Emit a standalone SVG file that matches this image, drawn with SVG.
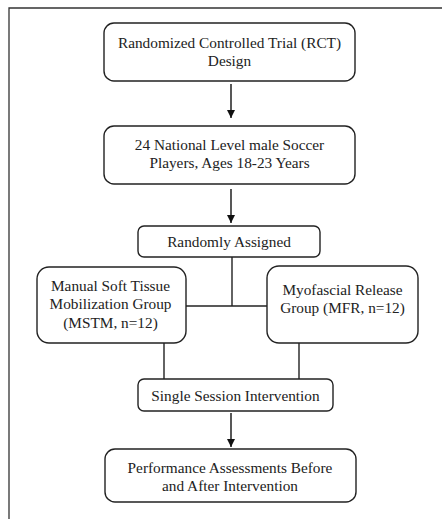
<svg xmlns="http://www.w3.org/2000/svg" width="442" height="519" viewBox="0 0 442 519">
<defs>
<marker id="ah" viewBox="0 0 8 8" refX="8" refY="4" markerWidth="8" markerHeight="8" markerUnits="userSpaceOnUse" orient="auto">
<path d="M0,0 L8,4 L0,8 Z" fill="#111"/>
</marker>
<style>
.box{fill:#fff;stroke:#222;stroke-width:1.4}
.t{font-family:'Liberation Serif','DejaVu Serif',serif;font-size:15.3px;fill:#222;text-anchor:middle}
.ln{stroke:#222;stroke-width:1.4;fill:none}
.ar{stroke:#111;stroke-width:1.4;fill:none;marker-end:url(#ah)}
.fr{stroke:#333;stroke-width:1.3;fill:none}
</style>
</defs>
<rect width="442" height="519" fill="#fff"/>
<path class="fr" d="M9,519 L9,8 L442,8"/>
<g id="connectors">
<line class="ar" x1="231" y1="84" x2="231" y2="118"/>
<line class="ar" x1="231" y1="189" x2="231" y2="223"/>
<line class="ln" x1="232" y1="257" x2="232" y2="306"/>
<line class="ln" x1="186" y1="306" x2="267" y2="306"/>
<line class="ln" x1="164" y1="343" x2="164" y2="379"/>
<line class="ln" x1="299" y1="343" x2="299" y2="379"/>
<line class="ar" x1="231" y1="413" x2="231" y2="447"/>
</g>
<g id="rct">
<rect class="box" x="104" y="23" width="251" height="58" rx="10"/>
<text class="t" x="229.5" y="48">Randomized Controlled Trial (RCT)</text>
<text class="t" x="229.5" y="65.5">Design</text>
</g>
<g id="players">
<rect class="box" x="104" y="126" width="251" height="58" rx="10"/>
<text class="t" x="229.5" y="150">24 National Level male Soccer</text>
<text class="t" x="229.5" y="167.5">Players, Ages 18-23 Years</text>
</g>
<g id="assigned">
<rect class="box" x="138" y="226" width="182" height="31" rx="6"/>
<text class="t" x="229" y="247">Randomly Assigned</text>
</g>
<g id="mstm">
<rect class="box" x="37" y="267" width="149" height="76" rx="12"/>
<text class="t" x="110.5" y="291">Manual Soft Tissue</text>
<text class="t" x="110.5" y="309">Mobilization Group</text>
<text class="t" x="110.5" y="327.5">(MSTM, n=12)</text>
</g>
<g id="mfr">
<rect class="box" x="267" y="266" width="151" height="77" rx="12"/>
<text class="t" x="342.5" y="295">Myofascial Release</text>
<text class="t" x="342.5" y="313">Group (MFR, n=12)</text>
</g>
<g id="session">
<rect class="box" x="138" y="379" width="195" height="32" rx="6"/>
<text class="t" x="235.5" y="400.5">Single Session Intervention</text>
</g>
<g id="assess">
<rect class="box" x="105" y="449" width="251" height="53" rx="10"/>
<text class="t" x="230" y="473">Performance Assessments Before</text>
<text class="t" x="230" y="491">and After Intervention</text>
</g>
</svg>
